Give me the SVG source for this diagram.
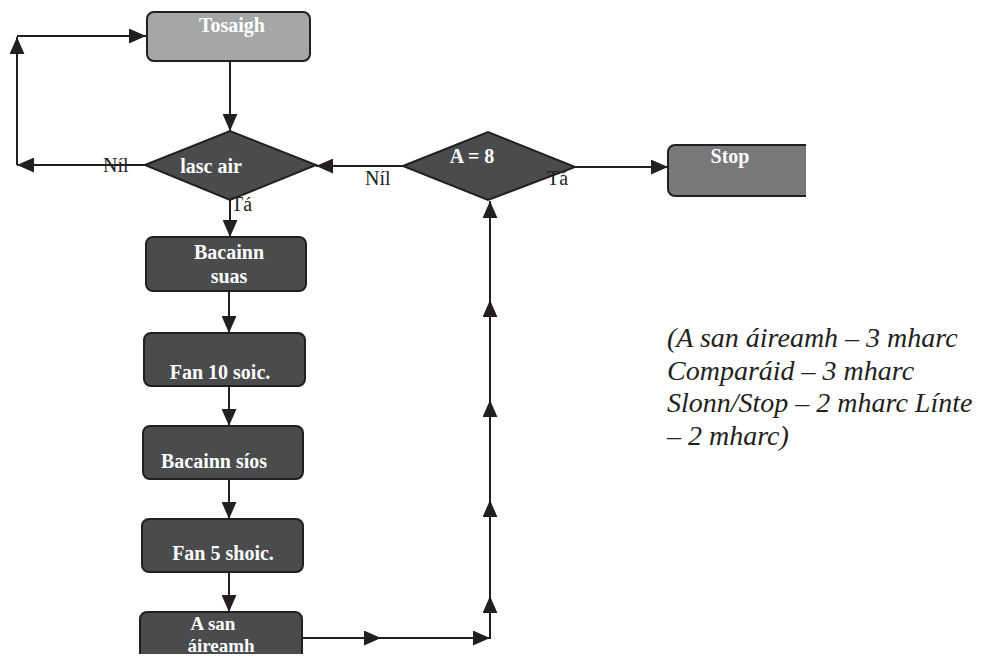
<svg xmlns="http://www.w3.org/2000/svg" width="985" height="657" viewBox="0 0 985 657">
<defs>
<marker id="ah" viewBox="0 0 16 14" refX="16" refY="7" markerUnits="userSpaceOnUse" markerWidth="17" markerHeight="15" orient="auto">
<path d="M0,0 L16,7 L0,14 z" fill="#231f20"/>
</marker>
<clipPath id="clipB"><rect x="0" y="0" width="985" height="654"/></clipPath>
<clipPath id="clipS"><rect x="0" y="0" width="806" height="657"/></clipPath>
</defs>
<style>
.box{stroke:#231f20;stroke-width:2}
.dark{fill:#4a4b4d}
.lt{fill:#a5a6a8}
.md{fill:#77787a}
.wt{font-family:"Liberation Serif",serif;font-weight:bold;font-size:20px;fill:#ffffff;text-anchor:middle}
.sm{font-size:19px}
.lbl{font-family:"Liberation Serif",serif;font-size:20px;fill:#231f20}
.note{font-family:"Liberation Serif",serif;font-style:italic;font-size:28px;fill:#231f20}
.cn path{fill:none;stroke:#231f20;stroke-width:2;marker-end:url(#ah)}
</style>
<rect width="985" height="657" fill="#ffffff"/>
<g id="connectors" class="cn">
<path d="M230,61 V131"/>
<path d="M145,165 H17"/>
<path d="M17,165 V37"/>
<path d="M17,36 H146"/>
<path d="M230,200 V237"/>
<path d="M229,291 V333"/>
<path d="M229,386 V426"/>
<path d="M229,479 V519"/>
<path d="M229,572 V612"/>
<path d="M302,638 H381"/>
<path d="M380,638 H490"/>
<path d="M490,639 V596"/>
<path d="M490,597 V500"/>
<path d="M490,501 V400"/>
<path d="M490,401 V300"/>
<path d="M490,301 V201"/>
<path d="M403,166 H316"/>
<path d="M575,167 H668"/>
</g>
<g id="tosaigh">
<rect class="box lt" x="147" y="12" width="163" height="49" rx="7"/>
<text class="wt" x="232" y="32">Tosaigh</text>
</g>
<g id="lasc-air">
<polygon class="box dark" points="145,165 230,131 316,165 230,200"/>
<text class="wt" x="211" y="173">lasc air</text>
</g>
<g id="bacainn-suas">
<rect class="box dark" x="146" y="237" width="160" height="54" rx="7"/>
<text class="wt" x="229" y="259">Bacainn</text>
<text class="wt" x="229" y="283">suas</text>
</g>
<g id="fan-10">
<rect class="box dark" x="144" y="333" width="161" height="53" rx="7"/>
<text class="wt" x="220" y="379">Fan 10 soic.</text>
</g>
<g id="bacainn-sios">
<rect class="box dark" x="143" y="426" width="160" height="53" rx="7"/>
<text class="wt" x="214" y="468">Bacainn síos</text>
</g>
<g id="fan-5">
<rect class="box dark" x="142" y="519" width="161" height="53" rx="7"/>
<text class="wt" x="223" y="560">Fan 5 shoic.</text>
</g>
<g id="a-san-aireamh" clip-path="url(#clipB)">
<rect class="box dark" x="140" y="612" width="162" height="60" rx="7"/>
<text class="wt sm" x="213" y="630">A san</text>
<text class="wt sm" x="221" y="652">áireamh</text>
</g>
<g id="a-eq-8">
<polygon class="box dark" points="403,166 488,132 575,167 488,200"/>
<text class="wt" x="472" y="163">A = 8</text>
</g>
<g id="stop" clip-path="url(#clipS)">
<rect class="box md" x="668" y="145" width="160" height="51" rx="7"/>
<text class="wt" x="730" y="163">Stop</text>
</g>
<g id="labels">
<text class="lbl" x="103" y="172">Níl</text>
<text class="lbl" x="231" y="211">Tá</text>
<text class="lbl" x="365" y="185">Níl</text>
<text class="lbl" x="547" y="185">Tá</text>
</g>
<g id="note">
<text class="note" x="667" y="347">(A san áireamh – 3 mharc</text>
<text class="note" x="667" y="380">Comparáid – 3 mharc</text>
<text class="note" x="667" y="412">Slonn/Stop – 2 mharc Línte</text>
<text class="note" x="667" y="445">– 2 mharc)</text>
</g>
</svg>
